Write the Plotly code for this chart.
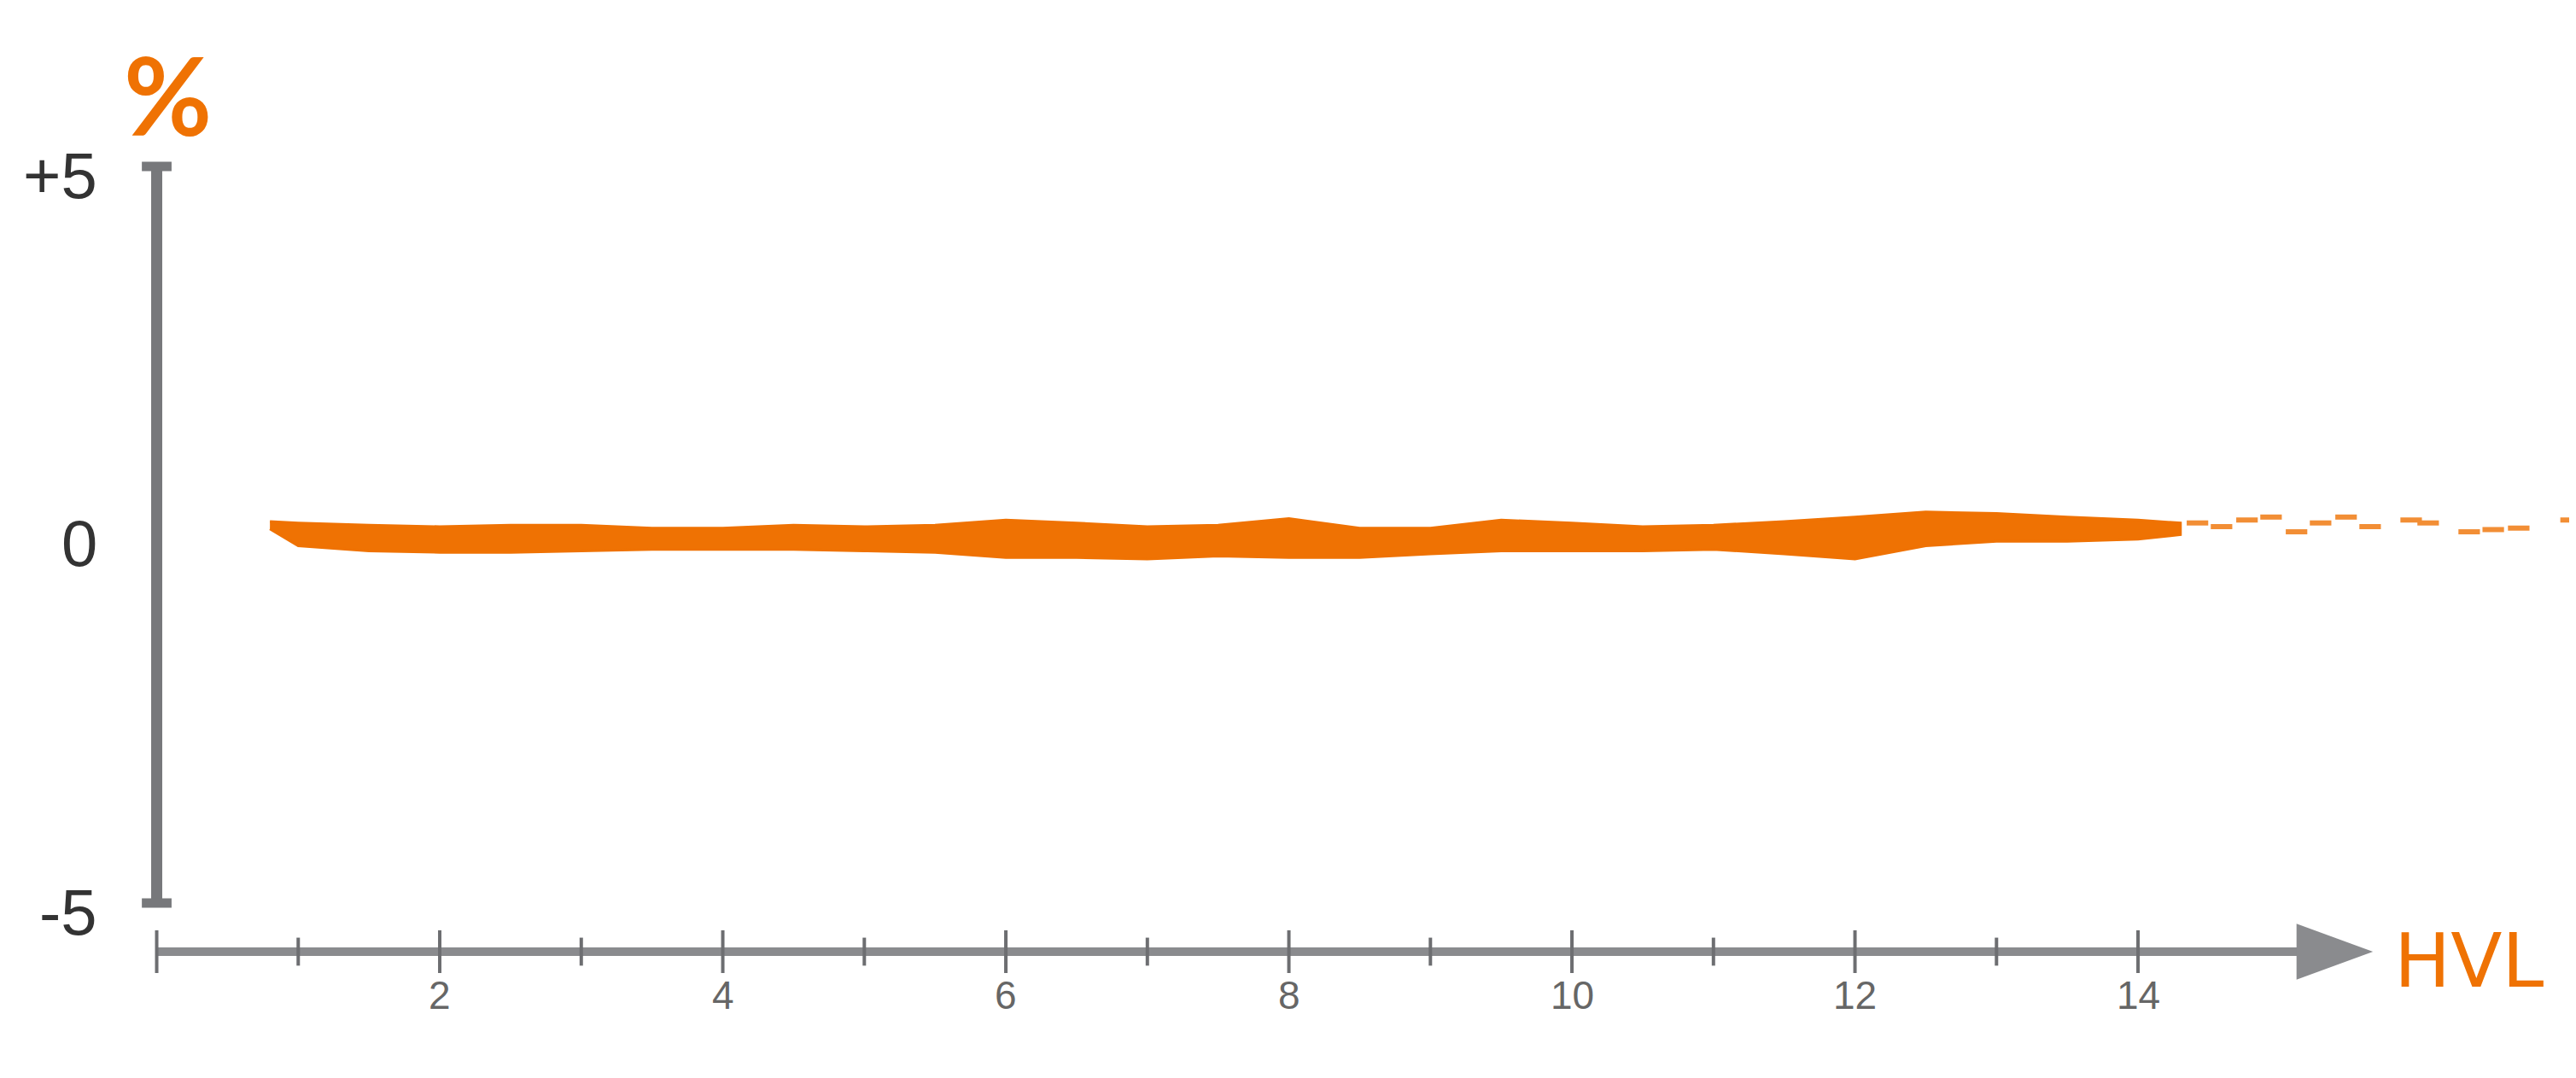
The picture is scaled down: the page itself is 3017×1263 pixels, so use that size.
import plotly.graph_objects as go

# Orange band (% deviation vs HVL), envelope
hvl = [0.8, 1.0, 1.5, 2.0, 2.5, 3.0, 3.5, 4.0, 4.5, 5.0, 5.5, 6.0, 6.5, 7.0,
       7.5, 8.0, 8.5, 9.0, 9.5, 10.0, 10.5, 11.0, 11.5, 12.0, 12.5, 13.0,
       13.5, 14.0, 14.3]
upper = [0.18, 0.16, 0.13, 0.11, 0.13, 0.13, 0.09, 0.09, 0.13, 0.11, 0.13,
         0.20, 0.16, 0.11, 0.13, 0.22, 0.09, 0.09, 0.20, 0.16, 0.11, 0.13,
         0.18, 0.24, 0.31, 0.29, 0.24, 0.20, 0.16]
lower = [0.08, -0.15, -0.22, -0.24, -0.24, -0.22, -0.20, -0.20, -0.20, -0.22,
         -0.24, -0.31, -0.31, -0.33, -0.29, -0.31, -0.31, -0.26, -0.22, -0.22,
         -0.22, -0.20, -0.26, -0.33, -0.15, -0.09, -0.09, -0.06, 0.00]

# scattered fragments at the tail
frag_x = [14.42, 14.59, 14.77, 14.94, 15.12, 15.29, 15.47, 15.64, 15.93,
          16.05, 16.34, 16.51, 16.69, 17.06]
frag_y = [0.16, 0.11, 0.20, 0.24, 0.04, 0.16, 0.24, 0.11, 0.20, 0.16,
          0.04, 0.07, 0.09, 0.20]

x_ticks = list(range(0, 15))
x_labels = ['2', '4', '6', '8', '10', '12', '14']
y_ticks = [5, 0, -5]
y_labels = ['+5', '0', '-5']

ORANGE = '#ef7203'
GRAY = '#8a8b8e'
DARK = '#6d6e71'

X_AXIS_Y = -5.66

fig = go.Figure()

fig.add_trace(go.Scatter(
    x=hvl + hvl[::-1],
    y=upper + lower[::-1],
    fill='toself',
    fillcolor=ORANGE,
    line=dict(color=ORANGE, width=3),
    mode='lines',
    hoverinfo='skip',
    showlegend=False
))

fig.add_trace(go.Scatter(
    x=frag_x,
    y=frag_y,
    mode='markers',
    marker=dict(symbol='line-ew', size=18, line=dict(color=ORANGE, width=6)),
    opacity=0.8,
    hoverinfo='skip',
    showlegend=False
))

shapes = []
# y axis with caps
shapes.append(dict(type='line', xref='x', yref='y', x0=0, x1=0, y0=-5, y1=5,
                   line=dict(color='#77787b', width=13)))
for v in (5, -5):
    shapes.append(dict(type='line', xref='x', yref='y', x0=-0.105, x1=0.105,
                       y0=v, y1=v, line=dict(color='#77787b', width=11)))
# x axis line + arrow head
shapes.append(dict(type='line', xref='x', yref='y', x0=0, x1=15.2,
                   y0=X_AXIS_Y, y1=X_AXIS_Y, line=dict(color=GRAY, width=10)))
shapes.append(dict(type='path', xref='x', yref='y',
                   path=f'M 15.12,{X_AXIS_Y + 0.38} L 15.66,{X_AXIS_Y} '
                        f'L 15.12,{X_AXIS_Y - 0.38} Z',
                   fillcolor=GRAY, line=dict(width=0)))
for t in x_ticks:
    h = 0.29 if t % 2 == 0 else 0.19
    shapes.append(dict(type='line', xref='x', yref='y', x0=t, x1=t,
                       y0=X_AXIS_Y - h, y1=X_AXIS_Y + h,
                       line=dict(color=DARK, width=4)))

annotations = []
for t, lab in zip(range(2, 15, 2), x_labels):
    annotations.append(dict(x=t, y=-6.25, text=lab, showarrow=False,
                            font=dict(family='Liberation Sans', size=46, color='#666666')))
for v, lab in zip(y_ticks, y_labels):
    annotations.append(dict(x=-0.41, y=v, text=lab, showarrow=False,
                            xanchor='right', yshift=-10,
                            font=dict(family='Liberation Sans', size=76, color='#333333')))
annotations.append(dict(x=0.08, y=5.98, text='<b>%</b>', showarrow=False,
                        font=dict(family='Lato', size=126, color=ORANGE)))
annotations.append(dict(x=15.8, y=-5.78, text='HVL', showarrow=False,
                        xanchor='left',
                        font=dict(family='DejaVu Sans', size=88, color=ORANGE)))

fig.update_layout(
    width=3017,
    height=1263,
    margin=dict(l=0, r=0, t=0, b=0),
    plot_bgcolor='white',
    paper_bgcolor='white',
    xaxis=dict(range=[-1.059, 17.143], visible=False),
    yaxis=dict(range=[-7.468, 7.167], visible=False),
    shapes=shapes,
    annotations=annotations
)

fig.write_html('out.html')
